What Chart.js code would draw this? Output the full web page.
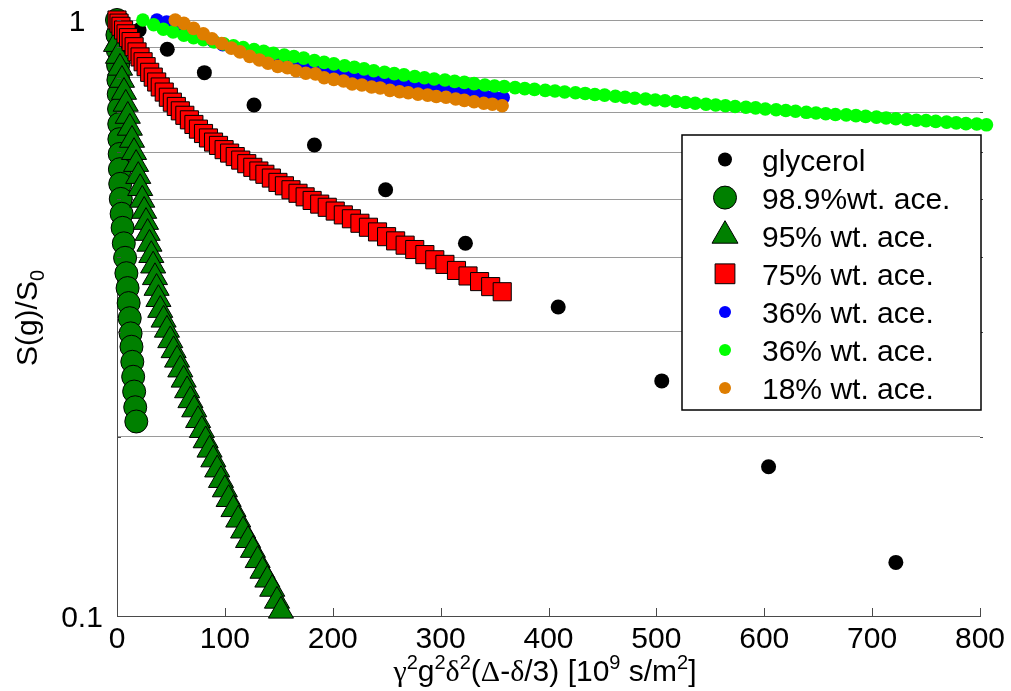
<!DOCTYPE html>
<html>
<head>
<meta charset="utf-8">
<script src="https://cdn.jsdelivr.net/npm/chart.js@4/dist/chart.umd.min.js"></script>
<style>html,body{margin:0;padding:0;background:#fff}canvas{display:block}</style>
</head>
<body>
<canvas id="chart" width="1011" height="691"></canvas>
<script>
(function () {
  'use strict';

  /* ---- data: b-value (x) vs S(g)/S0 (y) ---- */
  var GLY_X = [0, 20.5, 46.6, 81, 127, 183, 249, 323, 409, 505, 604, 722];
  var GLY_Y = [1, 0.962, 0.893, 0.816, 0.720, 0.617, 0.519, 0.422, 0.330, 0.248, 0.178, 0.123];

  var A989_X = [0, 0.4, 0.7, 1.0, 1.3, 1.6, 1.9, 2.1, 2.2, 2.5, 2.7, 3.0, 3.5, 4.3, 5.2, 6.3, 7.5, 8.7, 9.8, 10.8,
    11.8, 12.6, 13.4, 14.2, 15.0, 15.9, 16.9, 17.9];
  var A989_Y = [1.000, 0.944, 0.891, 0.840, 0.793, 0.751, 0.709, 0.669, 0.631, 0.596, 0.562, 0.531, 0.501, 0.473,
    0.448, 0.422, 0.399, 0.376, 0.355, 0.335, 0.316, 0.298, 0.283, 0.267, 0.252, 0.238, 0.224, 0.212];

  var A95_X = [-4.6, -2.8, -0.9, 0.9, 2.8, 4.6, 6.5, 8.1, 10.0, 11.9, 13.9, 15.8, 17.7, 19.7, 21.5, 23.4, 25.2, 26.9,
    28.4, 30.1, 31.8, 33.5, 35.2, 36.7, 38.4, 40.1, 43.2, 46.3, 49.4, 52.5, 55.7, 58.7, 61.8, 65.0, 68.1, 71.6, 75.2,
    78.7, 82.2, 85.8, 89.3, 92.9, 96.4, 100.0, 103.5, 108.0, 112.4, 116.9, 121.5, 126.0, 130.4, 134.9, 139.4, 143.9,
    148.3, 152.0];
  var A95_Y = [1.000, 0.955, 0.911, 0.870, 0.831, 0.793, 0.757, 0.723, 0.690, 0.659, 0.629, 0.600, 0.573, 0.547,
    0.522, 0.499, 0.478, 0.458, 0.439, 0.421, 0.403, 0.387, 0.370, 0.355, 0.340, 0.326, 0.314, 0.302, 0.290, 0.279,
    0.269, 0.259, 0.249, 0.239, 0.230, 0.222, 0.213, 0.205, 0.197, 0.190, 0.183, 0.176, 0.169, 0.163, 0.157, 0.151,
    0.145, 0.139, 0.134, 0.129, 0.124, 0.119, 0.115, 0.111, 0.106, 0.102];

  var A75_X = [0, 1.9, 3.7, 6.1, 8.4, 10.7, 13.1, 15.9, 18.6, 21.4, 24.2, 27.0, 30.3, 33.6, 36.8, 40.1, 43.8, 47.6,
    51.3, 55.0, 58.7, 62.9, 67.1, 71.3, 75.5, 80.2, 84.8, 89.5, 94.1, 99.3, 104.4, 109.6, 114.7, 120.3, 125.9, 131.5,
    137.1, 143.1, 149.2, 155.2, 161.3, 167.8, 174.4, 180.9, 187.9, 194.9, 202.3, 209.8, 217.3, 225.2, 233.1, 241.5,
    249.9, 258.3, 267.1, 276.0, 285.4, 294.6, 304.0, 314.7, 325.4, 336.1, 346.4, 357.1];
  var A75_Y = [1.000, 0.988, 0.976, 0.962, 0.948, 0.934, 0.920, 0.902, 0.884, 0.867, 0.851, 0.835, 0.817, 0.802,
    0.787, 0.772, 0.757, 0.742, 0.728, 0.716, 0.704, 0.692, 0.680, 0.668, 0.656, 0.645, 0.634, 0.624, 0.616, 0.606,
    0.598, 0.590, 0.582, 0.574, 0.566, 0.558, 0.551, 0.543, 0.534, 0.527, 0.519, 0.512, 0.505, 0.498, 0.491, 0.485,
    0.478, 0.471, 0.464, 0.456, 0.449, 0.441, 0.433, 0.426, 0.419, 0.412, 0.404, 0.396, 0.389, 0.380, 0.372, 0.364,
    0.357, 0.350];

  var B36_X = [37, 46, 54, 63, 72, 80, 89, 98, 106, 115, 124, 132, 141, 150, 158, 167, 176, 184, 193, 202, 210, 219,
    228, 236, 245, 254, 262, 271, 280, 288, 297, 306, 314, 323, 332, 340, 349, 358];
  var B36_Y = [1.000, 0.992, 0.981, 0.964, 0.949, 0.937, 0.922, 0.909, 0.899, 0.888, 0.877, 0.869, 0.860, 0.851,
    0.844, 0.837, 0.831, 0.826, 0.820, 0.815, 0.810, 0.804, 0.798, 0.794, 0.789, 0.784, 0.781, 0.777, 0.773, 0.770,
    0.767, 0.763, 0.760, 0.756, 0.752, 0.748, 0.745, 0.741];

  var G36_X = [24, 34, 43, 52, 62, 71, 80, 90, 99, 108, 117, 127, 136, 145, 155, 164, 173, 183, 192, 201, 211, 220,
    229, 238, 248, 257, 266, 276, 285, 294, 304, 313, 322, 331, 341, 350, 359, 369, 378, 387, 397, 406, 415, 425,
    434, 443, 452, 462, 471, 480, 490, 499, 508, 518, 527, 536, 546, 555, 564, 573, 583, 592, 601, 611, 620, 629,
    639, 648, 657, 666, 676, 685, 694, 704, 713, 722, 732, 741, 750, 759, 769, 778, 787, 797, 806];
  var G36_Y = [1.000, 0.982, 0.965, 0.955, 0.943, 0.934, 0.927, 0.919, 0.912, 0.905, 0.899, 0.892, 0.886, 0.879,
    0.873, 0.868, 0.863, 0.855, 0.849, 0.844, 0.838, 0.833, 0.828, 0.822, 0.817, 0.813, 0.809, 0.804, 0.800, 0.796,
    0.793, 0.789, 0.786, 0.782, 0.778, 0.775, 0.773, 0.770, 0.767, 0.765, 0.762, 0.760, 0.757, 0.755, 0.753, 0.750,
    0.748, 0.745, 0.742, 0.739, 0.737, 0.734, 0.732, 0.730, 0.727, 0.725, 0.722, 0.720, 0.718, 0.716, 0.714, 0.712,
    0.709, 0.707, 0.705, 0.703, 0.700, 0.698, 0.696, 0.694, 0.693, 0.691, 0.689, 0.687, 0.685, 0.683, 0.681, 0.679,
    0.678, 0.676, 0.674, 0.672, 0.670, 0.669, 0.667];

  var O18_X = [54, 62, 71, 80, 88, 97, 106, 114, 123, 132, 140, 149, 158, 166, 175, 184, 192, 201, 210, 218, 227,
    236, 244, 253, 262, 270, 279, 288, 296, 305, 314, 322, 331, 340, 348, 357];
  var O18_Y = [1.000, 0.987, 0.968, 0.948, 0.930, 0.913, 0.897, 0.884, 0.869, 0.857, 0.846, 0.836, 0.832, 0.822,
    0.814, 0.812, 0.800, 0.795, 0.790, 0.781, 0.778, 0.772, 0.769, 0.762, 0.758, 0.755, 0.751, 0.748, 0.744, 0.742,
    0.737, 0.733, 0.729, 0.725, 0.722, 0.718];

  var X_TICKS = [0, 100, 200, 300, 400, 500, 600, 700, 800];
  var Y_LABELS = [1, 0.1];
  var Y_MINOR = [0.2, 0.3, 0.4, 0.5, 0.6, 0.7, 0.8, 0.9, 1];

  var SANS = '"Liberation Sans", Arial, sans-serif';
  var SERIF = '"Liberation Serif", "Times New Roman", serif';
  var AXIS_COLOR = '#4a4a4a';
  var GRID_COLOR = '#9a9a9a';

  // legend order = dataset order; draw order reversed so the last series sits on top
  var SERIES = [
    { label: 'glycerol',        xs: GLY_X,  ys: GLY_Y,  style: 'circle',   r: 7.5, fill: '#000000', stroke: '#000000', bw: 0, lr: 7 },
    { label: '98.9%wt. ace.',   xs: A989_X, ys: A989_Y, style: 'circle',   r: 11.5, fill: '#008000', stroke: '#000000', bw: 1, lr: 11.5 },
    { label: '95% wt. ace.',    xs: A95_X,  ys: A95_Y,  style: 'triangle', r: 14.5, fill: '#008000', stroke: '#000000', bw: 1, lr: 15 },
    { label: '75% wt. ace.',    xs: A75_X,  ys: A75_Y,  style: 'rect',     r: 12.8, fill: '#ff0000', stroke: '#000000', bw: 1, lr: 14 },
    { label: '36% wt. ace.',    xs: B36_X,  ys: B36_Y,  style: 'circle',   r: 6.8, fill: '#0000ff', stroke: '#0000ff', bw: 0, lr: 6 },
    { label: '36% wt. ace.',    xs: G36_X,  ys: G36_Y,  style: 'circle',   r: 6.8, fill: '#00ff00', stroke: '#00ff00', bw: 0, lr: 6 },
    { label: '18% wt. ace.',    xs: O18_X,  ys: O18_Y,  style: 'circle',   r: 6.8, fill: '#de7d00', stroke: '#de7d00', bw: 0, lr: 6 }
  ];

  function pts(xs, ys) {
    return xs.map(function (x, i) { return { x: x, y: ys[i] }; });
  }

  var datasets = SERIES.map(function (s, i) {
    return {
      label: s.label,
      data: pts(s.xs, s.ys),
      pointStyle: s.style,
      pointRadius: s.r,
      pointHoverRadius: s.r,
      backgroundColor: s.fill,
      borderColor: s.stroke,
      borderWidth: s.bw,
      pointBorderWidth: s.bw,
      showLine: false,
      clip: false,
      order: SERIES.length - 1 - i
    };
  });

  /* marker for the legend, same geometry as Chart.js point styles */
  function marker(ctx, s, x, y) {
    var r = s.lr;
    ctx.beginPath();
    if (s.style === 'triangle') {
      ctx.moveTo(x, y - r);
      ctx.lineTo(x + 0.866 * r, y + 0.5 * r);
      ctx.lineTo(x - 0.866 * r, y + 0.5 * r);
      ctx.closePath();
    } else if (s.style === 'rect') {
      var h = Math.SQRT1_2 * r;
      ctx.rect(x - h, y - h, 2 * h, 2 * h);
    } else {
      ctx.arc(x, y, r, 0, Math.PI * 2);
    }
    ctx.fillStyle = s.fill;
    ctx.fill();
    if (s.bw) { ctx.lineWidth = s.bw; ctx.strokeStyle = s.stroke; ctx.stroke(); }
  }

  /* text made of runs: plain, serif greek, superscript, subscript */
  function runFont(kind) {
    if (kind === 'serif') return '30px ' + SERIF;
    if (kind === 'sup' || kind === 'sub') return '20px ' + SANS;
    return '30px ' + SANS;
  }
  function runShift(kind) { return kind === 'sup' ? -12 : (kind === 'sub' ? 7 : 0); }
  function drawRuns(ctx, runs, cx, base) {
    var total = 0;
    runs.forEach(function (r) { ctx.font = runFont(r[1]); total += ctx.measureText(r[0]).width; });
    var x = cx - total / 2;
    ctx.textAlign = 'left';
    ctx.textBaseline = 'alphabetic';
    runs.forEach(function (r) {
      ctx.font = runFont(r[1]);
      ctx.fillText(r[0], x, base + runShift(r[1]));
      x += ctx.measureText(r[0]).width;
    });
  }

  var X_TITLE = [['\u03b3', 'serif'], ['2', 'sup'], ['g', 'sans'], ['2', 'sup'], ['\u03b4', 'serif'], ['2', 'sup'],
    ['(', 'sans'], ['\u0394', 'serif'], ['-', 'sans'], ['\u03b4', 'serif'], ['/3) [10', 'sans'], ['9', 'sup'],
    [' s/m', 'sans'], ['2', 'sup'], [']', 'sans']];
  var Y_TITLE = [['S(g)/S', 'sans'], ['0', 'sub']];

  var overlay = {
    id: 'overlay',
    afterDraw: function (chart) {
      var ctx = chart.ctx, ca = chart.chartArea;
      var xs = chart.scales.x, ys = chart.scales.y;
      ctx.save();

      /* inward tick marks */
      ctx.strokeStyle = AXIS_COLOR;
      ctx.lineWidth = 1;
      X_TICKS.forEach(function (v) {
        var px = Math.round(xs.getPixelForValue(v)) + 0.5;
        ctx.beginPath(); ctx.moveTo(px, ca.bottom); ctx.lineTo(px, ca.bottom - 8); ctx.stroke();
      });
      Y_MINOR.forEach(function (v) {
        var py = Math.round(ys.getPixelForValue(v)) + 0.5;
        ctx.beginPath(); ctx.moveTo(ca.left, py); ctx.lineTo(ca.left + 4, py); ctx.stroke();
        ctx.beginPath(); ctx.moveTo(ca.right, py); ctx.lineTo(ca.right + 3, py); ctx.stroke();
      });

      /* tick labels */
      ctx.fillStyle = '#000';
      ctx.font = '30px ' + SANS;
      ctx.textAlign = 'center';
      ctx.textBaseline = 'alphabetic';
      X_TICKS.forEach(function (v) {
        ctx.fillText(String(v), xs.getPixelForValue(v), ca.bottom + 32);
      });
      Y_LABELS.forEach(function (v) {
        var txt = String(v);
        ctx.fillText(txt, txt.length > 1 ? 82 : 77, ys.getPixelForValue(v) + 11);
      });

      /* axis titles */
      drawRuns(ctx, X_TITLE, 545, 681);
      ctx.save();
      ctx.translate(37, 318);
      ctx.rotate(-Math.PI / 2);
      drawRuns(ctx, Y_TITLE, 0, 0);
      ctx.restore();

      /* legend box inside the axes */
      var bx = 682, by = 135, bw = 299, bh = 275;
      ctx.fillStyle = '#fff';
      ctx.fillRect(bx, by, bw, bh);
      ctx.lineWidth = 1.5;
      ctx.strokeStyle = '#000';
      ctx.strokeRect(bx, by, bw, bh);
      SERIES.forEach(function (s, i) {
        var ry = 159.5 + 38.1 * i;
        marker(ctx, s, 725, ry);
        ctx.fillStyle = '#000';
        ctx.font = '30px ' + SANS;
        ctx.textAlign = 'left';
        ctx.textBaseline = 'alphabetic';
        ctx.fillText(s.label, 762, ry + 11);
      });
      ctx.restore();
    }
  };

  new Chart(document.getElementById('chart').getContext('2d'), {
    type: 'scatter',
    data: { datasets: datasets },
    options: {
      responsive: false,
      animation: false,
      devicePixelRatio: 1,
      events: [],
      layout: { padding: { left: 0, right: 31, top: 20, bottom: 0 } },
      plugins: { legend: { display: false }, tooltip: { enabled: false } },
      scales: {
        x: {
          type: 'linear', position: 'bottom', min: 0, max: 800,
          grid: { display: false, drawTicks: false },
          border: { display: true, color: AXIS_COLOR, width: 1 },
          ticks: { display: false },
          afterFit: function (s) { s.height = 75; }
        },
        y: {
          type: 'logarithmic', position: 'left', min: 0.1, max: 1,
          grid: {
            drawTicks: false,
            color: function (c) { return c.tick && c.tick.value < 0.15 ? 'rgba(0,0,0,0)' : GRID_COLOR; },
            lineWidth: 1
          },
          border: { display: true, color: AXIS_COLOR, width: 1 },
          ticks: { display: false, autoSkip: false },
          afterBuildTicks: function (s) {
            s.ticks = [0.1].concat(Y_MINOR).map(function (v) { return { value: v }; });
          },
          afterFit: function (s) { s.width = 117; }
        }
      }
    },
    plugins: [overlay]
  });
})();
</script>
</body>
</html>
